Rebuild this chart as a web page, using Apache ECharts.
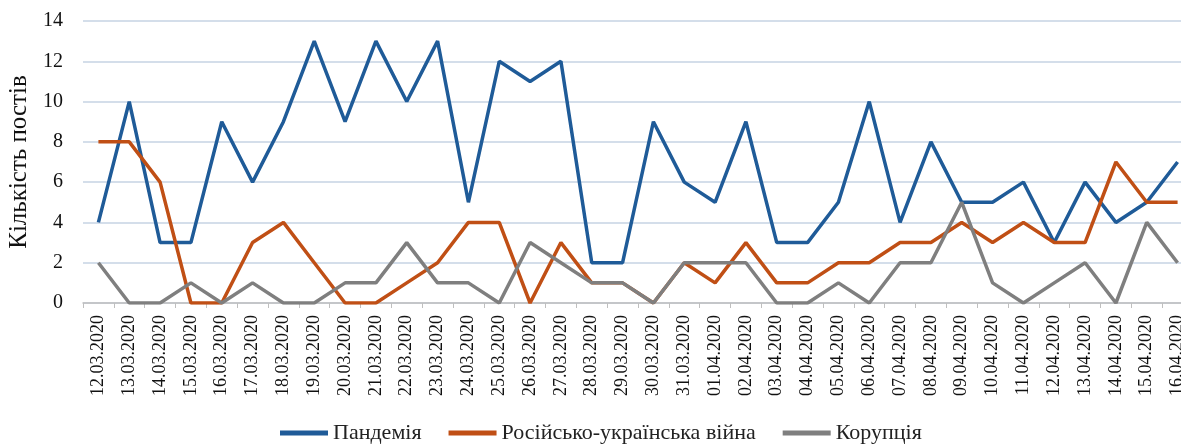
<!DOCTYPE html>
<html>
<head>
<meta charset="utf-8">
<script src="https://cdn.jsdelivr.net/npm/echarts@6/dist/echarts.min.js"></script>
<style>
html, body { margin: 0; padding: 0; background: #fff; }
#main { width: 1181px; height: 445px; }
</style>
</head>
<body>
<div id="main"></div>
<script>
// дати публікацій
var dates = ['12.03.2020', '13.03.2020', '14.03.2020', '15.03.2020', '16.03.2020', '17.03.2020',
    '18.03.2020', '19.03.2020', '20.03.2020', '21.03.2020', '22.03.2020', '23.03.2020',
    '24.03.2020', '25.03.2020', '26.03.2020', '27.03.2020', '28.03.2020', '29.03.2020',
    '30.03.2020', '31.03.2020', '01.04.2020', '02.04.2020', '03.04.2020', '04.04.2020',
    '05.04.2020', '06.04.2020', '07.04.2020', '08.04.2020', '09.04.2020', '10.04.2020',
    '11.04.2020', '12.04.2020', '13.04.2020', '14.04.2020', '15.04.2020', '16.04.2020'];

var pandemic = [4, 10, 3, 3, 9, 6, 9, 13, 9, 13, 10, 13, 5, 12, 11, 12, 2, 2,
    9, 6, 5, 9, 3, 3, 5, 10, 4, 8, 5, 5, 6, 3, 6, 4, 5, 7];
var war = [8, 8, 6, 0, 0, 3, 4, 2, 0, 0, 1, 2, 4, 4, 0, 3, 1, 1,
    0, 2, 1, 3, 1, 1, 2, 2, 3, 3, 4, 3, 4, 3, 3, 7, 5, 5];
var corruption = [2, 0, 0, 1, 0, 1, 0, 0, 1, 1, 3, 1, 1, 0, 3, 2, 1, 1,
    0, 2, 2, 2, 0, 0, 1, 0, 2, 2, 5, 1, 0, 1, 2, 0, 4, 2];

var yTicks = [0, 2, 4, 6, 8, 10, 12, 14];

var serif = 'Liberation Serif';

function lineSeries(name, data, color) {
    return {
        name: name,
        type: 'line',
        data: data,
        symbol: 'none',
        lineStyle: {width: 3.5, color: color},
        itemStyle: {color: color}
    };
}

var myChart = echarts.init(document.getElementById('main'));
myChart.setOption({
    backgroundColor: '#fff',
    animation: false,
    textStyle: {fontFamily: serif},
    grid: {left: 83, top: 21, width: 1110, height: 282, outerBoundsMode: 'none'},
    legend: {
        top: 422,
        left: 280,
        padding: 0,
        icon: 'rect',
        itemWidth: 48,
        itemHeight: 5,
        itemGap: 27,
        textStyle: {fontFamily: serif, fontSize: 22, lineHeight: 22, color: '#222'},
        data: ['Пандемія', 'Російсько-українська війна', 'Корупція']
    },
    xAxis: {
        type: 'category',
        data: dates,
        boundaryGap: true,
        axisLine: {lineStyle: {color: '#bfbfbf', width: 1.5}},
        axisTick: {show: true, length: 5, lineStyle: {color: '#bfbfbf'}},
        axisLabel: {
            rotate: 90,
            interval: 0,
            margin: 12,
            fontFamily: serif,
            fontSize: 18,
            color: '#111'
        }
    },
    yAxis: {
        type: 'value',
        min: yTicks[0],
        max: yTicks[yTicks.length - 1],
        interval: 2,
        name: 'Кількість постів',
        nameLocation: 'middle',
        nameGap: 50,
        nameTextStyle: {fontFamily: serif, fontSize: 25, color: '#111'},
        axisLine: {show: false},
        axisTick: {show: false},
        axisLabel: {fontFamily: serif, fontSize: 20, color: '#111', margin: 20},
        splitLine: {lineStyle: {color: '#c6d3e3', width: 1.5}}
    },
    series: [
        lineSeries('Пандемія', pandemic, '#1f5b98'),
        lineSeries('Російсько-українська війна', war, '#c04f15'),
        lineSeries('Корупція', corruption, '#7f7f7f')
    ]
});
</script>
</body>
</html>
